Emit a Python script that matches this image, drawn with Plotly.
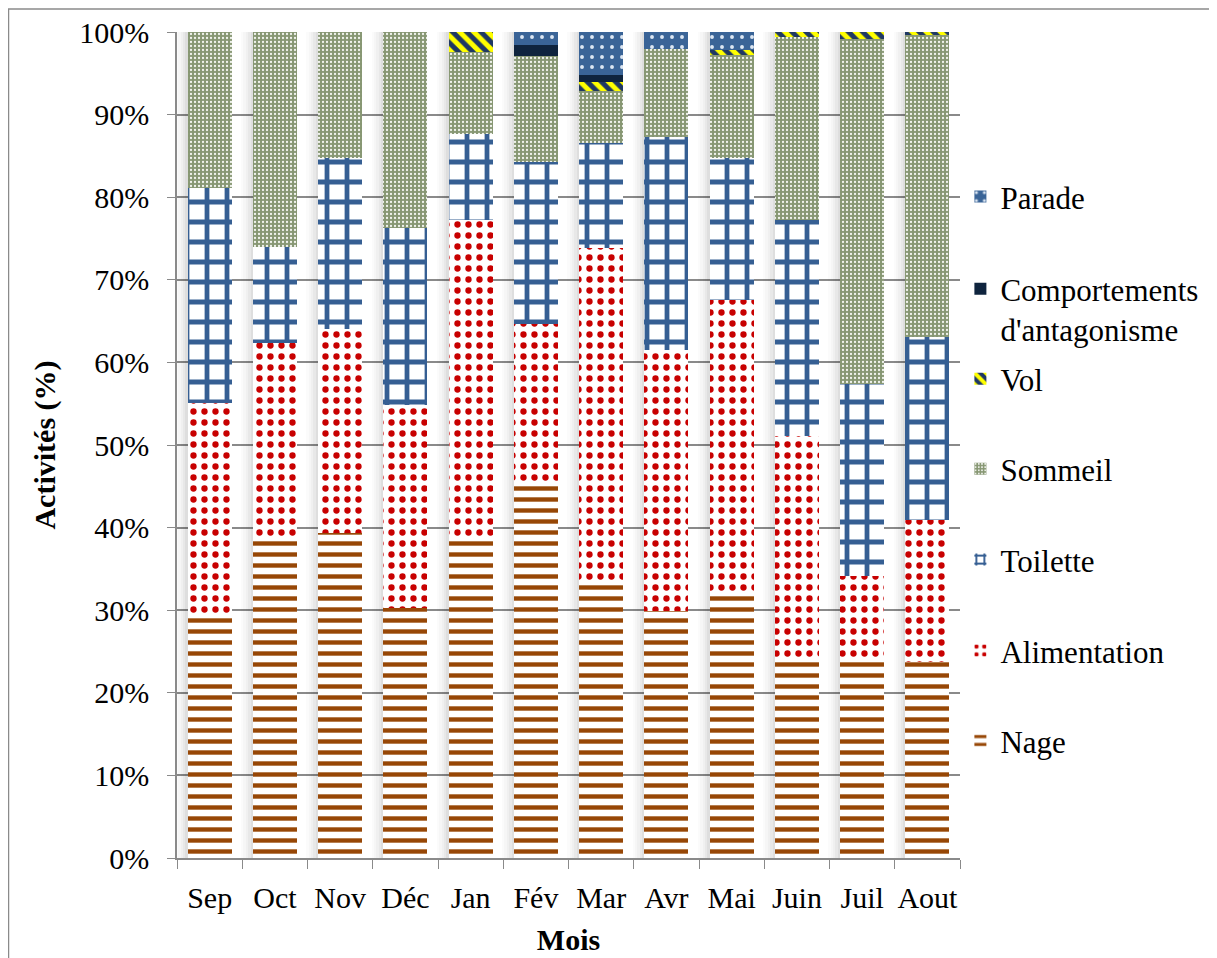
import plotly.graph_objects as go

months = ["Sep", "Oct", "Nov", "Déc", "Jan", "Fév", "Mar", "Avr", "Mai", "Juin", "Juil", "Aout"]

nage = [29.3, 38.7, 39.4, 30.3, 38.5, 45.4, 33.2, 29.9, 31.8, 24.1, 23.9, 23.7]
alimentation = [25.8, 23.7, 24.6, 24.6, 38.7, 19.3, 40.7, 31.6, 35.8, 27.0, 10.3, 17.2]
toilette = [26.0, 11.6, 20.8, 21.4, 10.5, 19.6, 12.7, 25.8, 17.2, 26.2, 23.2, 22.2]
sommeil = [18.9, 26.0, 15.2, 23.7, 9.9, 12.8, 6.2, 10.7, 12.4, 22.1, 41.8, 36.5]
vol = [0, 0, 0, 0, 2.4, 0, 1.1, 0, 0.6, 0.6, 0.8, 0.4]
antagonisme = [0, 0, 0, 0, 0, 1.3, 0.9, 0, 0, 0, 0, 0]
parade = [0, 0, 0, 0, 0, 1.6, 5.2, 2.0, 2.2, 0, 0, 0]

series = [
    ("Nage", nage, dict(shape="-", fgcolor="#974706", bgcolor="white", size=11, solidity=0.4)),
    ("Alimentation", alimentation, dict(shape=".", fgcolor="#C80000", bgcolor="white", size=11, solidity=0.26)),
    ("Toilette", toilette, dict(shape="+", fgcolor="#365F93", bgcolor="white", size=20, solidity=0.42)),
    ("Sommeil", sommeil, dict(shape=".", fgcolor="#F2F4EE", bgcolor="#879773", size=4, solidity=0.25)),
    ("Vol", vol, dict(shape="\\", fgcolor="#FFFF00", bgcolor="#1F3864", size=10, solidity=0.5)),
    ("Comportements<br>d'antagonisme", antagonisme, None),
    ("Parade", parade, dict(shape=".", fgcolor="#DCE6F2", bgcolor="#3A6497", size=10, solidity=0.12)),
]
solid_colors = {"Comportements<br>d'antagonisme": "#0F243E"}

# legend placement (paper y of each legend box top), bottom series first
legend_tops = [0.1745, 0.2835, 0.3935, 0.5035, 0.6125, 0.7215, 0.833]

FONT = "Times New Roman"
fig = go.Figure()

# soft shadow strips to the left of each bar (drawn on overlay axes)
totals = [sum(v) for v in zip(nage, alimentation, toilette, sommeil, vol, antagonisme, parade)]
shadow_alpha = [0.13, 0.09, 0.06, 0.035, 0.015]
strip = 0.036
half = 0.3375
for k, a in enumerate(shadow_alpha):
    ax = "x%d" % (k + 2)
    fig.add_trace(go.Bar(x=months, y=totals, xaxis=ax, yaxis="y", showlegend=False,
                         width=strip, offset=-half - (k + 1) * strip,
                         marker=dict(color="rgba(0,0,0,%.3f)" % a, line=dict(width=0)),
                         hoverinfo="skip"))

for i, (name, vals, pat) in enumerate(series):
    marker = dict(line=dict(width=0))
    if pat is None:
        marker["color"] = solid_colors[name]
    else:
        marker["color"] = pat["bgcolor"]
        marker["pattern"] = dict(shape=pat["shape"], fgcolor=pat["fgcolor"], bgcolor=pat["bgcolor"],
                                 size=pat["size"], solidity=pat["solidity"], fillmode="replace")
    lg = "legend" if i == 0 else "legend%d" % (i + 1)
    fig.add_trace(go.Bar(x=months, y=vals, name=name, marker=marker, legend=lg))

layout_extra = {}
for i in range(len(series)):
    lg = "legend" if i == 0 else "legend%d" % (i + 1)
    layout_extra[lg] = dict(x=1.0005, y=legend_tops[i], xanchor="left", yanchor="top", valign="top",
                            font=dict(size=31, family=FONT, color="black"), bgcolor="rgba(0,0,0,0)")
for k in range(len(shadow_alpha)):
    layout_extra["xaxis%d" % (k + 2)] = dict(overlaying="x", visible=False, range=[-0.5, 11.5],
                                            categoryorder="array", categoryarray=months)

fig.update_layout(
    width=1209, height=950,
    barmode="stack", bargap=0.325,
    plot_bgcolor="white", paper_bgcolor="white",
    margin=dict(l=169, r=257, t=24, b=100, autoexpand=False),
    font=dict(family=FONT, size=30, color="black"),
    xaxis=dict(title=dict(text="<b>Mois</b>", font=dict(size=30, family=FONT), standoff=16),
               range=[-0.5, 11.5], categoryorder="array", categoryarray=months,
               tickangle=0, tickfont=dict(family=FONT, size=30),
               showline=True, linecolor="#8a8a8a", linewidth=1.5,
               ticks="outside", tickson="boundaries", ticklen=9, tickcolor="#8a8a8a", tickwidth=1,
               ticklabelstandoff=12, showgrid=False, automargin=False),
    yaxis=dict(title=dict(text="<b>Activités (%)</b>", font=dict(size=30, family=FONT), standoff=15),
               range=[0, 100], dtick=10, ticksuffix="%", tickfont=dict(family=FONT, size=30),
               showline=True, linecolor="#8a8a8a", linewidth=1.5,
               ticks="outside", ticklen=8, tickcolor="#8a8a8a", tickwidth=1,
               ticklabelstandoff=12, automargin=False,
               showgrid=True, gridcolor="#8a8a8a", gridwidth=1.5, zeroline=False),
    shapes=[dict(type="rect", xref="paper", yref="paper",
                 x0=-0.2152, x1=1.3195, y0=-0.125, y1=1.0278,
                 line=dict(color="#8a8a8a", width=1.5), layer="below")],
    **layout_extra,
)

fig.write_html("out.html")
